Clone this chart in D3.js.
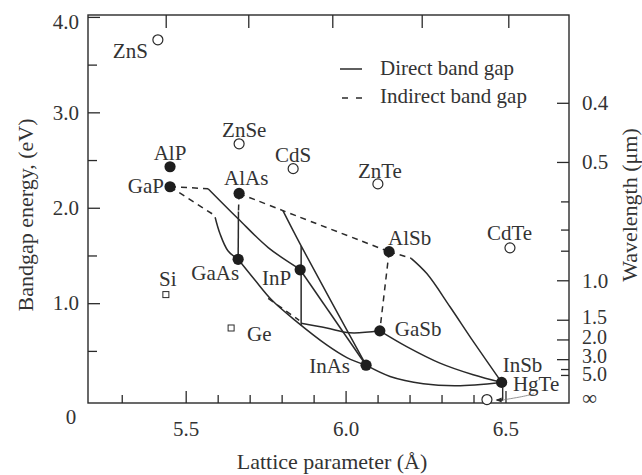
<!DOCTYPE html>
<html>
<head>
<meta charset="utf-8">
<script src="https://cdn.jsdelivr.net/npm/d3@7"></script>
<style>
  body { margin: 0; background: #fff; }
  svg text { font-family: "Liberation Serif", "Times New Roman", serif; fill: #333; }
</style>
</head>
<body>
<script>
// III-V compounds (filled dots): lattice parameter (A), bandgap (eV)
var iiivNames = ["AlP", "GaP", "AlAs", "GaAs", "InP", "AlSb", "GaSb", "InAs", "InSb"];
var iiivLattice = [5.451, 5.451, 5.667, 5.664, 5.858, 6.136, 6.107, 6.064, 6.488];
var iiivGap = [2.43, 2.22, 2.15, 1.46, 1.35, 1.54, 0.71, 0.35, 0.17];

// II-VI compounds (open circles)
var iiviNames = ["ZnS", "ZnSe", "CdS", "ZnTe", "CdTe", "HgTe"];
var iiviLattice = [5.413, 5.667, 5.836, 6.101, 6.514, 6.442];
var iiviGap = [3.76, 2.67, 2.41, 2.25, 1.58, -0.01];

// elements (open squares)
var elemNames = ["Si", "Ge"];
var elemLattice = [5.438, 5.642];
var elemGap = [1.09, 0.74];

// alloy curves, [lattice, gap]
var gaInP = [[5.570, 2.20], [5.664, 1.885], [5.758, 1.583], [5.858, 1.354]];
var gaAsPDirect = [[5.592, 1.90], [5.607, 1.73], [5.632, 1.55], [5.664, 1.46]];
var alGaAsDirect = [[5.665, 1.96], [5.664, 1.46]];
var alInAsDirect = [[5.804, 1.97], [5.861, 1.60], [6.064, 0.35]];
var inPMatched = [[5.861, 1.60], [5.861, 0.77]];
var gaAsSbDirect = [[5.861, 0.79], [5.941, 0.74], [6.013, 0.69], [6.107, 0.71]];
var gaInAs = [[5.664, 1.46], [5.717, 1.24], [5.770, 1.03], [5.842, 0.82], [5.942, 0.56], [6.004, 0.43], [6.064, 0.35]];
var inAsP = [[5.858, 1.35], [6.064, 0.35]];
var alInSbDirect = [[6.205, 1.47], [6.254, 1.31], [6.327, 0.96], [6.399, 0.60], [6.488, 0.17]];
var gaInSb = [[6.107, 0.71], [6.191, 0.545], [6.295, 0.372], [6.399, 0.25], [6.488, 0.17]];
var inAsSb = [[6.064, 0.35], [6.139, 0.232], [6.243, 0.156], [6.347, 0.135], [6.488, 0.17]];

var gaInPIndirect = [[5.451, 2.22], [5.570, 2.20]];
var gaAsPIndirect = [[5.451, 2.22], [5.586, 1.93]];
var alGaAsIndirect = [[5.667, 2.15], [5.665, 1.96]];
var alAsSb = [[5.667, 2.15], [5.804, 1.97], [6.136, 1.54]];
var gaAsSbIndirect = [[5.758, 1.05], [5.855, 0.82]];
var alGaSb = [[6.136, 1.54], [6.107, 0.71]];
var alInSbIndirect = [[6.136, 1.54], [6.205, 1.47]];

var solidCurves = [gaInP, gaAsPDirect, alGaAsDirect, alInAsDirect, inPMatched, gaAsSbDirect,
  gaInAs, inAsP, alInSbDirect, gaInSb, inAsSb];
var dashedCurves = [gaInPIndirect, gaAsPIndirect, alGaAsIndirect, alAsSb, gaAsSbIndirect,
  alGaSb, alInSbIndirect];

// HgTe pointer
var hgTePointer = [[6.4912, 0.12], [6.4912, -0.015], [6.4725, -0.015]];
var hgTeLeader = [[6.59, 0.05], [6.55, 0.02], [6.495, -0.012]];

// axes
var xLabelTicks = [5.5, 6.0, 6.5];
var xMinorTicks = [5.3, 5.6, 5.7, 5.8, 5.9, 6.1, 6.2, 6.3, 6.4];
var xTopTicks = [5.4375, 5.6957, 5.9584, 6.238, 6.5088];
var yLabelTicks = [1, 2, 3, 4];
var yMinorTicks = [0.5, 1.5, 2.5, 3.5];
var wlLabelTicks = [0.4, 0.5, 1.0];
var wlStackTicks = [1.5, 2.0, 3.0];
var wlMinorTicks = [0.6, 0.7, 0.8, 4.0, 5.0];
var wlSmallLabel = [5.0];

// label placement: dx, dy, anchor
var labelPos = {
  ZnS: [-10, 18, "end"], ZnSe: [-17, -7, "start"], AlP: [0, -7, "middle"],
  GaP: [-6, 6, "end"], AlAs: [-15, -8, "start"], CdS: [0, -7, "middle"],
  ZnTe: [-20, -6, "start"], CdTe: [-23, -8, "start"], AlSb: [-1, -7, "start"],
  GaSb: [15, 5, "start"], InAs: [-16, 8, "end"], InSb: [1, -10, "start"],
  HgTe: [26, -9, "start"], GaAs: [1, 21, "end"], InP: [-9, 15, "end"],
  Si: [2, -9, "middle"], Ge: [16, 13, "start"]
};

var width = 642, height = 475;
var ink = "#2a2a2a";
var fontSize = 21;

var svg = d3.select("body")
  .append("svg")
  .attr("width", width)
  .attr("height", height);

var x = d3.scaleLinear().domain([5.1945, 6.6986]).range([88, 569]);
var y = d3.scaleLinear().domain([-0.046, 4.02]).range([403, 15]);

function styleAxis(g) {
  g.select(".domain").remove();
  g.selectAll("line").attr("stroke", ink).attr("stroke-width", 1.3);
  g.selectAll("text")
    .attr("font-size", fontSize)
    .attr("font-family", "Liberation Serif, serif")
    .attr("fill", "#333");
}

// bottom axis
svg.append("g")
  .attr("transform", "translate(0,403)")
  .call(d3.axisBottom(x).tickValues(xLabelTicks).tickSize(-12).tickPadding(18).tickFormat(d3.format(".1f")))
  .call(styleAxis);
svg.append("g")
  .attr("transform", "translate(0,403)")
  .call(d3.axisBottom(x).tickValues(xMinorTicks).tickSize(-8).tickFormat(""))
  .call(styleAxis);

// top axis
svg.append("g")
  .attr("transform", "translate(0,15)")
  .call(d3.axisTop(x).tickValues(xTopTicks).tickSize(-13).tickFormat(""))
  .call(styleAxis);

// left axis
var leftAxis = svg.append("g")
  .attr("transform", "translate(88,0)")
  .call(d3.axisLeft(y).tickValues(yLabelTicks).tickSize(-12).tickPadding(9).tickFormat(d3.format(".1f")))
  .call(styleAxis);
leftAxis.selectAll(".tick")
  .filter(function (d) { return d === 4; })
  .select("text")
  .attr("dy", "0.55em");
svg.append("g")
  .attr("transform", "translate(88,0)")
  .call(d3.axisLeft(y).tickValues(yMinorTicks).tickSize(-9).tickFormat(""))
  .call(styleAxis);
svg.append("text")
  .attr("x", 71)
  .attr("y", y(0) + 25)
  .attr("text-anchor", "middle")
  .attr("font-size", fontSize)
  .text("0");

// right axis: wavelength = 1.24 / E
function wlToE(wl) { return 1.24 / wl; }
function wlFormat(e) { return (1.24 / e).toFixed(1); }
svg.append("g")
  .attr("transform", "translate(569,0)")
  .call(d3.axisRight(y).tickValues(wlLabelTicks.map(wlToE)).tickSize(-12).tickPadding(13).tickFormat(wlFormat))
  .call(styleAxis);
var stack = svg.append("g")
  .attr("transform", "translate(569,0)")
  .call(d3.axisRight(y).tickValues(wlStackTicks.map(wlToE)).tickSize(-12).tickPadding(13).tickFormat(wlFormat))
  .call(styleAxis);
stack.selectAll("text").attr("font-size", 20).attr("dy", "0.18em");
svg.append("g")
  .attr("transform", "translate(569,0)")
  .call(d3.axisRight(y).tickValues(wlMinorTicks.map(wlToE)).tickSize(-8).tickFormat(""))
  .call(styleAxis);
var small = svg.append("g")
  .attr("transform", "translate(569,0)")
  .call(d3.axisRight(y).tickValues(wlSmallLabel.map(wlToE)).tickSize(0).tickPadding(13).tickFormat(wlFormat))
  .call(styleAxis);
small.selectAll("text").attr("font-size", 20).attr("dy", "0.3em");
svg.append("text")
  .attr("x", 582)
  .attr("y", y(0) + 6)
  .attr("font-size", fontSize)
  .text("\u221e");

// frame
svg.append("rect")
  .attr("x", 88)
  .attr("y", 15)
  .attr("width", 569 - 88)
  .attr("height", 403 - 15)
  .attr("fill", "none")
  .attr("stroke", ink)
  .attr("stroke-width", 1.4);

// axis titles
svg.append("text")
  .attr("x", 332)
  .attr("y", 469)
  .attr("text-anchor", "middle")
  .attr("font-size", 22)
  .text("Lattice parameter (\u00c5)");

svg.append("text")
  .attr("transform", "translate(33,215) rotate(-90)")
  .attr("text-anchor", "middle")
  .attr("font-size", 22)
  .text("Bandgap energy, (eV)");

svg.append("text")
  .attr("transform", "translate(637,205) rotate(-90)")
  .attr("text-anchor", "middle")
  .attr("font-size", 22)
  .text("Wavelength (\u03bcm)");

// curves
var line = d3.line()
  .x(function (d) { return x(d[0]); })
  .y(function (d) { return y(d[1]); })
  .curve(d3.curveCatmullRom.alpha(0.5));

svg.selectAll(".solid")
  .data(solidCurves)
  .enter()
  .append("path")
  .attr("class", "solid")
  .attr("d", line)
  .attr("fill", "none")
  .attr("stroke", ink)
  .attr("stroke-width", 1.5);

svg.selectAll(".dashed")
  .data(dashedCurves)
  .enter()
  .append("path")
  .attr("class", "dashed")
  .attr("d", line)
  .attr("fill", "none")
  .attr("stroke", ink)
  .attr("stroke-width", 1.5)
  .attr("stroke-dasharray", "6,5");

var straight = d3.line()
  .x(function (d) { return x(d[0]); })
  .y(function (d) { return y(d[1]); });

svg.append("path")
  .attr("d", straight(hgTePointer))
  .attr("fill", "none")
  .attr("stroke", ink)
  .attr("stroke-width", 1.4);
svg.append("path")
  .attr("d", line(hgTeLeader))
  .attr("fill", "none")
  .attr("stroke", "#777")
  .attr("stroke-width", 0.8);
var tip = [x(hgTePointer[2][0]), y(hgTePointer[2][1])];
svg.append("path")
  .attr("d", "M" + (tip[0] - 1) + "," + tip[1] + "l6,-2.5v5z")
  .attr("fill", ink);

// points
function rows(names, lat, gap) {
  return names.map(function (n, i) { return { name: n, a: lat[i], e: gap[i] }; });
}
var iiiv = rows(iiivNames, iiivLattice, iiivGap);
var iivi = rows(iiviNames, iiviLattice, iiviGap);
var elems = rows(elemNames, elemLattice, elemGap);

svg.selectAll(".iivi")
  .data(iivi)
  .enter()
  .append("circle")
  .attr("class", "iivi")
  .attr("cx", function (d) { return x(d.a); })
  .attr("cy", function (d) { return y(d.e); })
  .attr("r", 5)
  .attr("fill", "#fff")
  .attr("stroke", ink)
  .attr("stroke-width", 1.2);

svg.selectAll(".iiiv")
  .data(iiiv)
  .enter()
  .append("circle")
  .attr("class", "iiiv")
  .attr("cx", function (d) { return x(d.a); })
  .attr("cy", function (d) { return y(d.e); })
  .attr("r", 5.6)
  .attr("fill", "#1e1e1e");

svg.selectAll(".elem")
  .data(elems)
  .enter()
  .append("rect")
  .attr("class", "elem")
  .attr("x", function (d) { return x(d.a) - 3; })
  .attr("y", function (d) { return y(d.e) - 3; })
  .attr("width", 6)
  .attr("height", 6)
  .attr("fill", "#fff")
  .attr("stroke", ink)
  .attr("stroke-width", 1);

svg.selectAll(".label")
  .data(iiiv.concat(iivi, elems))
  .enter()
  .append("text")
  .attr("class", "label")
  .attr("x", function (d) { return x(d.a) + labelPos[d.name][0]; })
  .attr("y", function (d) { return y(d.e) + labelPos[d.name][1]; })
  .attr("text-anchor", function (d) { return labelPos[d.name][2]; })
  .attr("font-size", fontSize)
  .text(function (d) { return d.name; });

// legend
var legend = svg.append("g");
legend.append("line")
  .attr("x1", 340).attr("x2", 362)
  .attr("y1", 69).attr("y2", 69)
  .attr("stroke", ink).attr("stroke-width", 1.5);
legend.append("line")
  .attr("x1", 342).attr("x2", 362)
  .attr("y1", 98).attr("y2", 98)
  .attr("stroke", ink).attr("stroke-width", 1.5)
  .attr("stroke-dasharray", "6,8");
legend.append("text")
  .attr("x", 380).attr("y", 75)
  .attr("font-size", fontSize)
  .text("Direct band gap");
legend.append("text")
  .attr("x", 380).attr("y", 103)
  .attr("font-size", fontSize)
  .text("Indirect band gap");
</script>
</body>
</html>
